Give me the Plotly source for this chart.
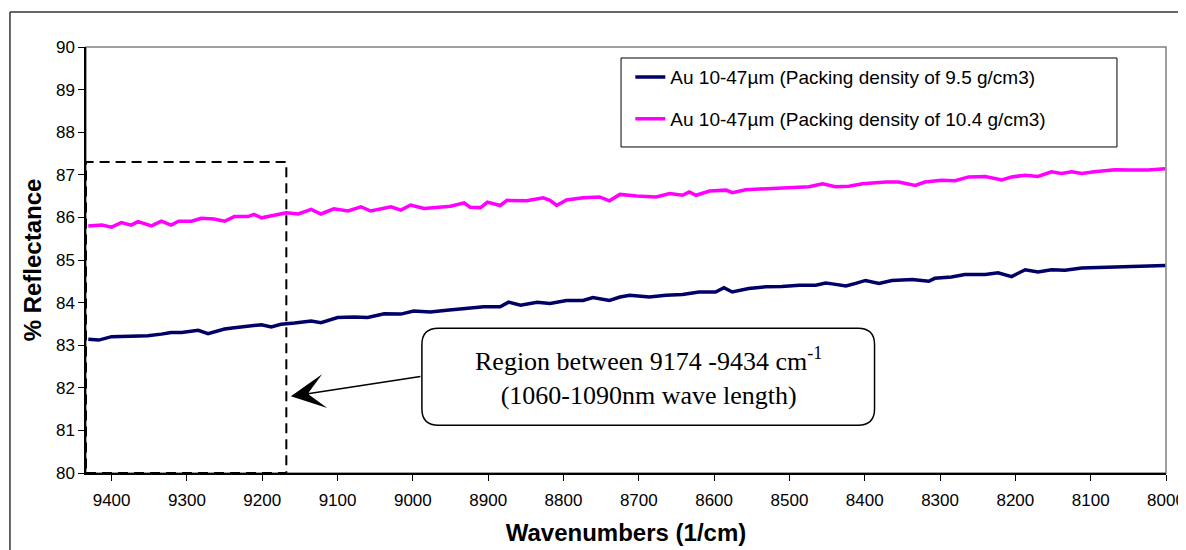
import plotly.graph_objects as go

# ---- data ----
wn_navy = [9431, 9417, 9400, 9374, 9352, 9334, 9321, 9307, 9285, 9272, 9250, 9237, 9219, 9201,
           9188, 9175, 9157, 9135, 9122, 9100, 9078, 9060, 9038, 9016, 8999, 8977, 8955, 8940,
           8932, 8906, 8884, 8873, 8857, 8835, 8818, 8796, 8774, 8761, 8739, 8725, 8712, 8686,
           8664, 8642, 8620, 8598, 8587, 8576, 8554, 8532, 8510, 8487, 8465, 8452, 8443, 8425,
           8412, 8399, 8381, 8364, 8337, 8315, 8307, 8285, 8267, 8240, 8223, 8205, 8187, 8170,
           8152, 8134, 8112, 8095, 8068, 8046, 8024, 8001]
refl_navy = [83.14, 83.12, 83.20, 83.22, 83.22, 83.26, 83.30, 83.30, 83.35, 83.27, 83.38, 83.41,
             83.44, 83.48, 83.43, 83.49, 83.52, 83.57, 83.53, 83.65, 83.66, 83.65, 83.74, 83.73,
             83.80, 83.78, 83.82, 83.85, 83.86, 83.90, 83.90, 84.01, 83.94, 84.01, 83.98, 84.05,
             84.05, 84.12, 84.05, 84.13, 84.17, 84.13, 84.17, 84.19, 84.25, 84.25, 84.35, 84.25,
             84.33, 84.37, 84.38, 84.41, 84.41, 84.46, 84.44, 84.39, 84.45, 84.52, 84.45, 84.52,
             84.54, 84.50, 84.57, 84.60, 84.66, 84.66, 84.70, 84.61, 84.77, 84.72, 84.77, 84.76,
             84.81, 84.82, 84.82, 84.84, 84.86, 84.87]

wn_mag = [9431, 9413, 9400, 9387, 9374, 9365, 9347, 9334, 9321, 9311, 9294, 9281, 9264, 9250,
          9237, 9219, 9211, 9201, 9184, 9168, 9152, 9135, 9122, 9105, 9086, 9069, 9056, 9029,
          9016, 9003, 8985, 8963, 8950, 8932, 8924, 8910, 8901, 8884, 8875, 8849, 8827, 8818,
          8809, 8796, 8774, 8752, 8739, 8725, 8703, 8677, 8659, 8642, 8633, 8624, 8606, 8584,
          8576, 8558, 8532, 8510, 8487, 8474, 8456, 8439, 8421, 8403, 8372, 8355, 8333, 8320,
          8298, 8280, 8262, 8240, 8218, 8205, 8187, 8170, 8152, 8139, 8125, 8112, 8095, 8068,
          8046, 8024, 8001]
refl_mag = [85.80, 85.82, 85.77, 85.88, 85.82, 85.90, 85.80, 85.91, 85.82, 85.91, 85.91, 85.98,
            85.96, 85.91, 86.02, 86.02, 86.07, 85.99, 86.05, 86.11, 86.08, 86.19, 86.08, 86.20,
            86.15, 86.25, 86.15, 86.25, 86.17, 86.29, 86.21, 86.23, 86.26, 86.34, 86.24, 86.23,
            86.36, 86.28, 86.40, 86.39, 86.46, 86.40, 86.28, 86.41, 86.46, 86.48, 86.39, 86.54,
            86.50, 86.48, 86.56, 86.52, 86.60, 86.52, 86.62, 86.64, 86.58, 86.65, 86.67, 86.69,
            86.69, 86.72, 86.79, 86.72, 86.73, 86.79, 86.83, 86.83, 86.75, 86.83, 86.87, 86.86,
            86.95, 86.96, 86.88, 86.95, 86.99, 86.96, 87.07, 87.03, 87.07, 87.03, 87.07, 87.12,
            87.11, 87.11, 87.14]

series_names = ["Au 10-47µm (Packing density of 9.5 g/cm3)",
                "Au 10-47µm (Packing density of 10.4 g/cm3)"]
x_ticks = [9400, 9300, 9200, 9100, 9000, 8900, 8800, 8700, 8600, 8500, 8400, 8300, 8200, 8100, 8000]
y_ticks = [80, 81, 82, 83, 84, 85, 86, 87, 88, 89, 90]
x_range = [9434, 8000]
y_range = [80, 90]
region = [9434, 9168, 80, 87.3]  # x0, x1, y0, y1 of dashed rectangle

SANS = "Liberation Sans, Arial, sans-serif"
SERIF = "Liberation Serif, Times New Roman, serif"

fig = go.Figure()
fig.add_trace(go.Scatter(x=wn_navy, y=refl_navy, mode="lines", name=series_names[0],
                         line=dict(color="#000066", width=3.5), legendgroup="a"))
fig.add_trace(go.Scatter(x=wn_mag, y=refl_mag, mode="lines", name=series_names[1],
                         line=dict(color="#ff00ff", width=3.5), legendgroup="b"))

shapes = []
# plot area border (gray)
shapes.append(dict(type="rect", xref="paper", yref="paper", x0=0, x1=1, y0=0, y1=1,
                   line=dict(color="#808080", width=1.5), layer="below"))
# outer chart frame
shapes.append(dict(type="line", xref="paper", yref="paper", x0=-0.0704, x1=1.05, y0=1.082, y1=1.082,
                   line=dict(color="#333333", width=1.5)))
shapes.append(dict(type="line", xref="paper", yref="paper", x0=-0.0704, x1=-0.0704, y0=1.082, y1=-0.2,
                   line=dict(color="#333333", width=1.5)))
# legend frame
shapes.append(dict(type="rect", xref="paper", yref="paper", x0=0.4954, x1=0.9546, y0=0.7653, y1=0.9742,
                   line=dict(color="black", width=1), fillcolor="white", layer="below"))
# dashed region rectangle
shapes.append(dict(type="rect", xref="x", yref="y", x0=region[0], x1=region[1], y0=region[2], y1=region[3],
                   line=dict(color="black", width=2, dash="10px,6px")))
# rounded callout box (data coords)
bx0, bx1, by0, by1 = 8988, 8387, 81.12, 83.40
rx, ry = 22, 0.38
path = (f"M {bx0 - rx},{by1} L {bx1 + rx},{by1} Q {bx1},{by1} {bx1},{by1 - ry} "
        f"L {bx1},{by0 + ry} Q {bx1},{by0} {bx1 + rx},{by0} "
        f"L {bx0 - rx},{by0} Q {bx0},{by0} {bx0},{by0 + ry} "
        f"L {bx0},{by1 - ry} Q {bx0},{by1} {bx0 - rx},{by1} Z")
shapes.append(dict(type="path", xref="x", yref="y", path=path, fillcolor="white",
                   line=dict(color="black", width=1.5)))

annotations = [
    dict(x=9162, y=81.8, ax=8988, ay=82.27, xref="x", yref="y", axref="x", ayref="y",
         text="", showarrow=True, arrowhead=3, arrowsize=3.8, arrowwidth=1.5, arrowcolor="black"),
    dict(x=(bx0 + bx1) / 2, y=(by0 + by1) / 2, xref="x", yref="y", showarrow=False,
         text="Region between 9174 -9434 cm<sup>-1</sup><br>(1060-1090nm wave length)",
         font=dict(family=SERIF, size=26, color="black"), align="center"),
]

fig.update_layout(
    width=1178, height=542,
    margin=dict(l=78, r=20, t=39, b=77),
    paper_bgcolor="white", plot_bgcolor="white",
    shapes=shapes, annotations=annotations,
    font=dict(family=SANS, color="black"),
    legend=dict(x=0.504, y=0.974, xanchor="left", yanchor="top",
                borderwidth=0, bgcolor="rgba(0,0,0,0)",
                font=dict(family=SANS, size=19, color="black"),
                traceorder="grouped", tracegroupgap=14),
    xaxis=dict(range=x_range, tickvals=x_ticks, ticks="outside", ticklen=6, tickcolor="black",
               showline=True, linecolor="black", linewidth=1.5, showgrid=False, zeroline=False,
               automargin=False, ticklabelstandoff=5,
               tickfont=dict(family=SANS, size=17, color="black"),
               title=dict(text="<b>Wavenumbers (1/cm)</b>", font=dict(family=SANS, size=24), standoff=15)),
    yaxis=dict(range=y_range, tickvals=y_ticks, ticks="outside", ticklen=6, tickcolor="black",
               showline=True, linecolor="black", linewidth=1.5, showgrid=False, zeroline=False,
               automargin=False,
               tickfont=dict(family=SANS, size=17, color="black"),
               title=dict(text="<b>% Reflectance</b>", font=dict(family=SANS, size=24), standoff=8)),
)

fig.write_html("out.html")
